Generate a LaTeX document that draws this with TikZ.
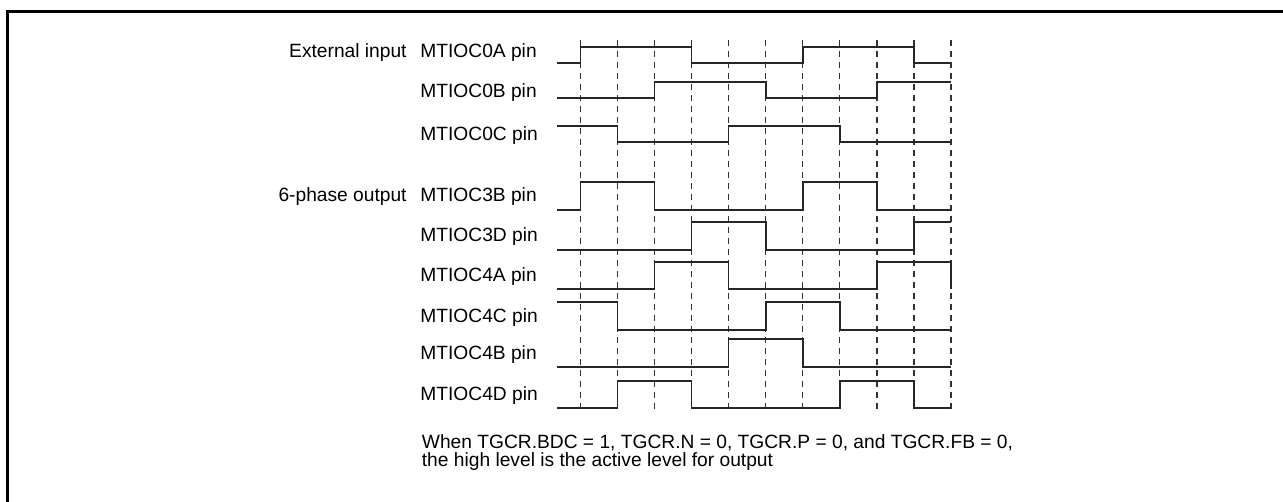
\documentclass[tikz,border=0pt]{standalone}
\usepackage{fontspec}
\setmainfont{Liberation Sans}
\begin{document}
\begin{tikzpicture}[x=0.5pt, y=-0.5pt, line join=miter,
    wave/.style={black!85, line width=0.75pt},
    gridline/.style={black!80, line width=0.6pt, dash pattern=on 3.2pt off 2.3pt},
    lbl/.style={anchor=base west, inner sep=0pt, font=\fontsize{9.6}{9}\selectfont},
    grp/.style={anchor=base east, inner sep=0pt, font=\fontsize{9.6}{9}\selectfont}]
    \useasboundingbox (0,0) rectangle (1283,502);
    \draw[line width=1.5pt] (7.5,502) -- (7.5,11.5) -- (1283,11.5);
    \pgfmathsetmacro{\xa}{580.5}
    \pgfmathsetmacro{\dx}{37.05}
    \foreach \i in {0,...,10} {
        \coordinate (t\i) at ({\xa+\dx*\i}, 40);
        \coordinate (b\i) at ({\xa+\dx*\i}, 413);
        \draw[gridline] (t\i) -- (b\i);
    }
    \foreach \nm/\base/\lo/\hi/\st/\lvs/\en [count=\r] in {
            0A/58/63/47/0/{1,1,1,0,0,0,1,1,1,0}/0,
            0B/98/98/82/0/{0,0,1,1,1,0,0,0,1,1}/1,
            0C/141/142/126/1/{1,0,0,0,1,1,1,0,0,0}/0,
            3B/202/210/182/0/{1,1,0,0,0,0,1,1,0,0}/0,
            3D/242/250/222/0/{0,0,0,1,1,0,0,0,0,1}/1,
            4A/281/289/262/0/{0,0,1,1,0,0,0,0,1,1}/0,
            4C/322/330/302/1/{1,0,0,0,0,1,1,0,0,0}/0,
            4B/359/367/339/0/{0,0,0,0,1,1,0,0,0,0}/0,
            4D/400/408/381/0/{0,1,1,0,0,0,0,1,1,0}/0} {
        \node[lbl] (pin\r) at (420, \base) {MTIOC\nm\ pin};
        \draw[wave] (557, {\st*\hi+(1-\st)*\lo}) -- (\xa, {\st*\hi+(1-\st)*\lo})
            \foreach \lv [count=\k] in \lvs {
                -- ({\xa+\dx*(\k-1)}, {\lv*\hi+(1-\lv)*\lo}) -- ({\xa+\dx*\k}, {\lv*\hi+(1-\lv)*\lo})
            }
            -- ({\xa+\dx*10}, {\en*\hi+(1-\en)*\lo});
    }
    \node[grp] (extin) at (407, 58) {External input};
    \node[grp] (sixout) at (407, 202) {6-phase output};
    \node[lbl] (note1) at (421.5, 448) {When TGCR.BDC = 1, TGCR.N = 0, TGCR.P = 0, and TGCR.FB = 0,};
    \node[lbl] (note2) at (421.5, 466) {the high level is the active level for output};
\end{tikzpicture}
\end{document}
